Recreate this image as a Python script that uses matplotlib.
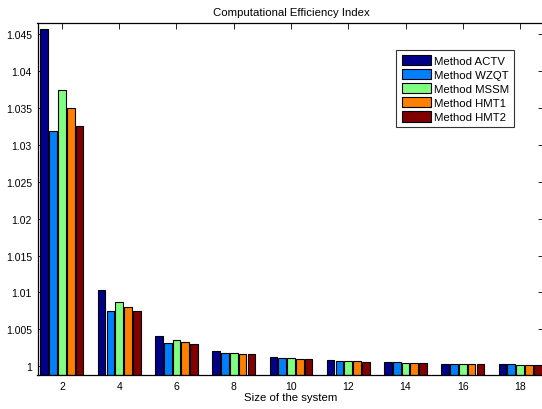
import matplotlib
matplotlib.use("Agg")
import matplotlib.pyplot as plt
import numpy as np

plt.rcParams['font.family'] = ['Liberation Sans', 'DejaVu Sans']

sizes = [2, 4, 6, 8, 10, 12, 14, 16, 18]
methods = ["Method ACTV", "Method WZQT", "Method MSSM", "Method HMT1", "Method HMT2"]
actv = [1.04572, 1.01027, 1.00412, 1.00212, 1.00122, 1.00081, 1.00054, 1.00036, 1.00027]
wzqt = [1.03183, 1.00751, 1.00320, 1.00177, 1.00108, 1.00072, 1.00054, 1.00036, 1.00027]
mssm = [1.03746, 1.00864, 1.00353, 1.00185, 1.00108, 1.00068, 1.00045, 1.00031, 1.00023]
hmt1 = [1.03502, 1.00806, 1.00330, 1.00171, 1.00103, 1.00068, 1.00041, 1.00031, 1.00023]
hmt2 = [1.03250, 1.00745, 1.00307, 1.00163, 1.00095, 1.00058, 1.00041, 1.00027, 1.00023]
colors = ["#000088", "#0080FF", "#80FF80", "#FF8000", "#800000"]
yticks = [1, 1.005, 1.01, 1.015, 1.02, 1.025, 1.03, 1.035, 1.04, 1.045]
ytick_labels = ["1", "1.005", "1.01", "1.015", "1.02", "1.025", "1.03", "1.035", "1.04", "1.045"]

fig = plt.figure(figsize=(5.42, 4.10), dpi=100)
ax = fig.add_axes([37.5 / 542, 34 / 410, 507 / 542, 352 / 410])

ymin, ymax = 0.99882, 1.04649
series = [actv, wzqt, mssm, hmt1, hmt2]
x = np.array(sizes, dtype=float)
pitch = 0.308
bw = 0.27
for i, (vals, c, name) in enumerate(zip(series, colors, methods)):
    off = (i - 2) * pitch
    v = np.array(vals)
    ax.bar(x + off, v - ymin, bottom=ymin, width=bw, color=c,
           edgecolor="black", linewidth=0.8, label=name, zorder=2)

ax.set_xlim(1.145, 18.855)
ax.set_ylim(ymin, ymax)
ax.set_xticks(sizes)
ax.set_xticklabels([str(s) for s in sizes])
ax.set_yticks(yticks)
ax.set_yticklabels(ytick_labels)
ax.tick_params(direction="in", length=4, width=0.6, labelsize=7.5,
               top=True, right=True, pad=4)
for sp in ax.spines.values():
    sp.set_linewidth(0.9)
ax.set_title("Computational Efficiency Index", fontsize=8.2, pad=6)
ax.set_xlabel("Size of the system", fontsize=8.2, labelpad=1)

leg = ax.legend(loc="upper right", bbox_to_anchor=(0.9404, 0.924),
                fontsize=8.2, frameon=True, fancybox=False, edgecolor="black",
                handlelength=2.55, handleheight=1.03, handletextpad=0.3,
                labelspacing=0.26, borderpad=0.45, borderaxespad=0.0)
leg.get_frame().set_linewidth(0.8)

fig.savefig("out.png", dpi=100)
